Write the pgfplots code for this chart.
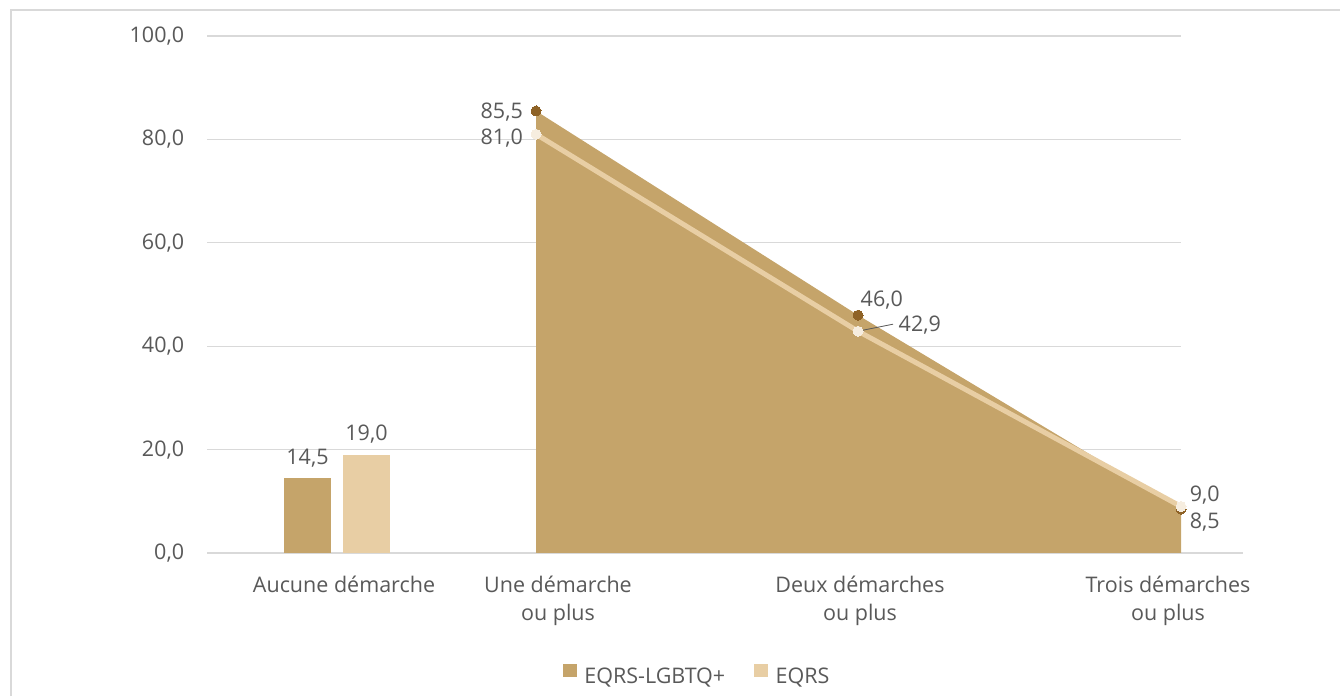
\documentclass[border=0pt]{standalone}
\usepackage{pgfplots}
\pgfplotsset{compat=1.18}
\usepackage{fontspec}
\setmainfont{Open Sans}
\definecolor{darkc}{HTML}{C5A46A}
\definecolor{lightc}{HTML}{E8CEA4}
\definecolor{darkm}{HTML}{8E6226}
\definecolor{lightm}{HTML}{F6EDDF}
\definecolor{textc}{HTML}{595959}
\definecolor{gridc}{HTML}{D9D9D9}
\begin{document}
\begin{tikzpicture}[x=1bp,y=1bp,font=\fontsize{21.5bp}{27.5bp}\selectfont,
  lab/.style={inner sep=0pt, text=textc}]
\useasboundingbox (0,0) rectangle (1340,696);
\draw[gridc, line width=2bp] (10.5,0) -- (10.5,685.5) -- (1340,685.5);
\begin{axis}[
  at={(207bp,143bp)}, anchor=south west,
  scale only axis, width=1036bp, height=517bp,
  xmin=207, xmax=1243, ymin=0, ymax=100,
  clip=false,
  axis line style={draw=none},
  tick style={draw=none},
  major tick length=0pt,
  ytick={0,20,...,100},
  xtick={344,558,860,1168},
  xticklabels={Aucune démarche, {Une démarche\\ou plus}, {Deux démarches\\ou plus}, {Trois démarches\\ou plus}},
  xticklabel style={align=center, anchor=north, inner sep=0pt, yshift=-23bp, text=textc},
  yticklabel style={anchor=east, inner sep=0pt, xshift=-22.7bp, text=textc},
  yticklabel={\pgfmathprintnumber[fixed,fixed zerofill,precision=1,use comma,assume math mode=true]{\tick}},
  legend columns=2,
  legend style={draw=none, fill=none, at={(0.3436,-0.2147)}, anchor=north west,
    inner sep=0pt, outer sep=0pt, nodes={inner sep=0pt, text=textc},
    /tikz/every odd column/.append style={column sep=8bp},
    /tikz/every even column/.append style={column sep=29bp}},
]
% grid
\pgfplotsinvokeforeach{20,40,60,80,100}{\draw[gridc, line width=1.2bp] (axis cs:207,#1) -- (axis cs:1181,#1);}
\draw[gridc, line width=1.3bp] (axis cs:207,0) -- (axis cs:1243,0);
% bars (Aucune demarche)
\addplot[forget plot, ybar, bar width=47, bar shift=0pt, fill=darkc, draw=none,
  nodes near coords={\pgfmathprintnumber[fixed,fixed zerofill,precision=1,use comma,assume math mode=true]{\pgfplotspointmeta}},
  every node near coord/.append style={anchor=base, inner sep=0pt, yshift=14bp, text=textc}]
  coordinates {(307.5,14.5)};
\addplot[forget plot, ybar, bar width=47, bar shift=0pt, fill=lightc, draw=none,
  nodes near coords={\pgfmathprintnumber[fixed,fixed zerofill,precision=1,use comma,assume math mode=true]{\pgfplotspointmeta}},
  every node near coord/.append style={anchor=base, inner sep=0pt, yshift=14bp, text=textc}]
  coordinates {(366.5,19.0)};
% area EQRS-LGBTQ+
\addplot[forget plot, fill=darkc, draw=none] coordinates {(536,85.5) (858,46.0) (1181,8.5)} \closedcycle;
% line EQRS
\addplot[forget plot, lightc, line width=5bp, mark=none] coordinates {(536,81.0) (858,42.9) (1181,9.0)};
% markers
\addplot[forget plot, only marks, color=darkm, mark=*, mark size=5bp, mark options={fill=darkm, draw=darkm, line width=0pt}] coordinates {(536,85.5) (858,46.0) (1181,8.5)};
\addplot[forget plot, only marks, color=lightm, mark=*, mark size=5bp, mark options={fill=lightm, draw=lightm, line width=0pt}] coordinates {(536,81.0) (858,42.9) (1181,9.0)};
% data labels
\node[lab, anchor=base east, xshift=-13bp, yshift=-7.6bp] at (axis cs:536,85.5) {85,5};
\node[lab, anchor=base east, xshift=-13bp, yshift=-10.7bp] at (axis cs:536,81.0) {81,0};
\node[lab, anchor=base west, xshift=2.5bp, yshift=8.4bp] at (axis cs:858,46.0) {46,0};
\node[lab, anchor=base west, xshift=40.5bp, yshift=0bp] at (axis cs:858,42.9) {42,9};
\draw[textc, line width=0.8bp] (axis cs:858,42.9) ++(5bp,1bp) -- ++(30bp,6bp);
\node[lab, anchor=base west, xshift=8.6bp, yshift=4.8bp] at (axis cs:1181,9.0) {9,0};
\node[lab, anchor=base west, xshift=8.6bp, yshift=-19.3bp] at (axis cs:1181,8.5) {8,5};
% legend
\addlegendimage{legend image code/.code={\fill[darkc] (0bp,0bp) rectangle (13bp,12bp);}}
\addlegendentry{EQRS-LGBTQ+}
\addlegendimage{legend image code/.code={\fill[lightc] (0bp,0bp) rectangle (13bp,12bp);}}
\addlegendentry{EQRS}
\end{axis}
\end{tikzpicture}
\end{document}
